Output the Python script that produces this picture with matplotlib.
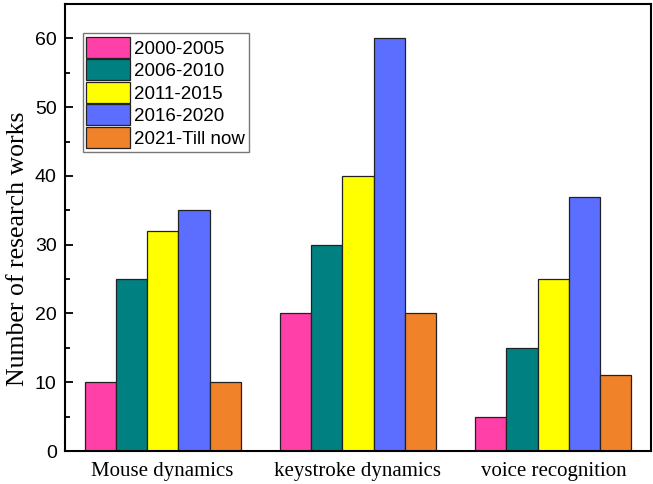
import matplotlib
matplotlib.use("Agg")
import matplotlib.pyplot as plt
import numpy as np
from matplotlib.ticker import MultipleLocator

categories = ["Mouse dynamics", "keystroke dynamics", "voice recognition"]
periods = ["2000-2005", "2006-2010", "2011-2015", "2016-2020", "2021-Till now"]
v_2000_2005 = [10, 20, 5]
v_2006_2010 = [25, 30, 15]
v_2011_2015 = [32, 40, 25]
v_2016_2020 = [35, 60, 37]
v_2021_now = [10, 20, 11]
series = [v_2000_2005, v_2006_2010, v_2011_2015, v_2016_2020, v_2021_now]
colors = ["#FF40A8", "#008080", "#FFFF00", "#5B6EFF", "#F0822A"]

fig = plt.figure(figsize=(6.53, 4.84), dpi=100)
ax = fig.add_axes([65/653, 33/484, 586/653, 447/484])

x = np.arange(1, len(categories) + 1)
w = 0.16
for i, (vals, c, lab) in enumerate(zip(series, colors, periods)):
    ax.bar(x + (i - 2) * w, vals, w, color=c, edgecolor="#222222", linewidth=0.9, label=lab)

ax.set_xlim(0.5, 3.5)
ax.set_ylim(0, 65)
ax.set_xticks(x)
ax.set_xticklabels(categories, family="Liberation Serif", fontsize=15)
ax.yaxis.set_major_locator(MultipleLocator(10))
ax.yaxis.set_minor_locator(MultipleLocator(5))
ax.tick_params(axis="y", which="major", direction="in", length=6, width=1.3, labelsize=14, pad=6)
ax.tick_params(axis="y", which="minor", direction="in", length=3.5, width=1.3)
ax.tick_params(axis="x", length=0, pad=8)
for lbl in ax.get_yticklabels():
    lbl.set_family("Liberation Sans")
for s in ax.spines.values():
    s.set_linewidth(1.5)
ax.set_ylabel("Number of research works", family="Liberation Serif", fontsize=18.5)
ax.yaxis.set_label_coords(-0.062, 0.452)

leg = ax.legend(loc="upper left", bbox_to_anchor=(0.03, 0.935), fancybox=False,
                prop={"family": "Liberation Sans", "size": 13.5}, handlelength=2.35,
                handleheight=1.35, handletextpad=0.2, labelspacing=0.08,
                borderpad=0.2, borderaxespad=0)
leg.get_frame().set_edgecolor("#555555")
leg.get_frame().set_linewidth(1.0)

fig.savefig("out.png", dpi=100)
